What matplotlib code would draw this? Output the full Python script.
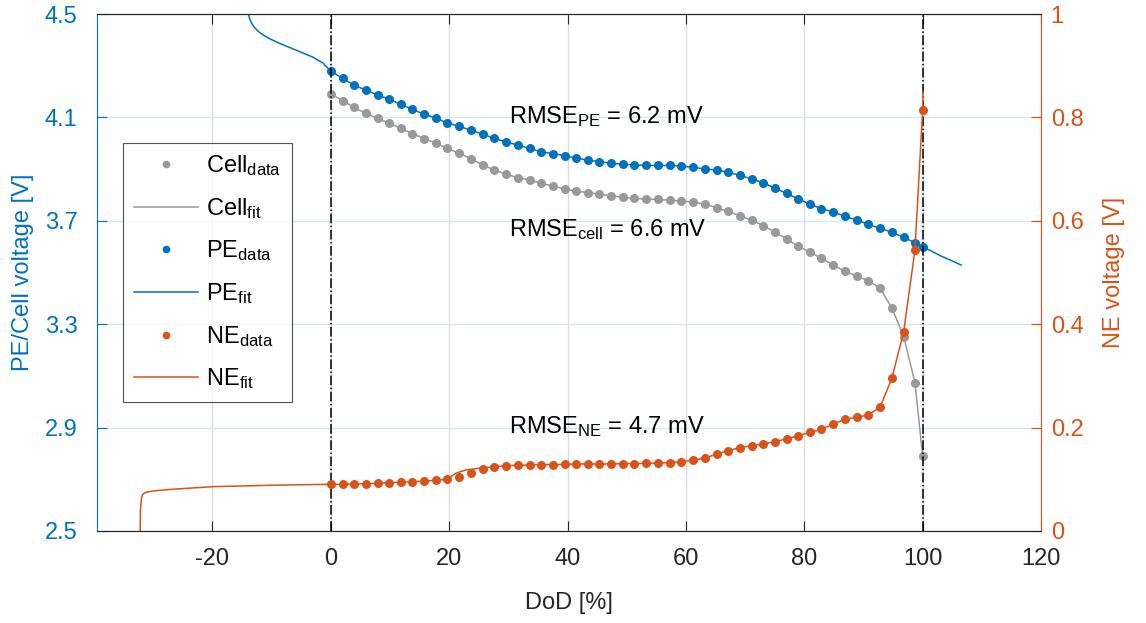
import matplotlib
matplotlib.use('Agg')
from matplotlib import pyplot as plt

plt.rcParams['font.family'] = ['Liberation Sans', 'DejaVu Sans']
plt.rcParams['mathtext.fontset'] = 'custom'
plt.rcParams['mathtext.rm'] = 'Liberation Sans'
plt.rcParams['mathtext.default'] = 'regular'
plt.rcParams['axes.unicode_minus'] = False

# depth of discharge of the measured points [%]
dod = [0, 2.0, 3.9, 5.9, 7.9, 9.9, 11.8, 13.8, 15.8, 17.8, 19.7, 21.7, 23.7,
       25.7, 27.6, 29.6, 31.6, 33.6, 35.5, 37.5, 39.5, 41.5, 43.4, 45.4, 47.4,
       49.4, 51.3, 53.3, 55.3, 57.3, 59.2, 61.2, 63.2, 65.2, 67.1, 69.1, 71.1,
       73.1, 75.0, 77.0, 79.0, 81.0, 82.9, 84.9, 86.9, 88.9, 90.8, 92.8, 94.8,
       96.8, 98.7, 100.0]

pe_data = [4.279, 4.251, 4.225, 4.206, 4.187, 4.170, 4.151, 4.131, 4.112, 4.097,
           4.078, 4.066, 4.050, 4.035, 4.019, 4.005, 3.993, 3.980,
           3.967, 3.960, 3.952, 3.942, 3.935, 3.929, 3.922, 3.919, 3.916, 3.915,
           3.914, 3.914, 3.911, 3.908, 3.900,
           3.897, 3.888, 3.876, 3.862, 3.847, 3.827, 3.806, 3.784, 3.764, 3.747,
           3.734, 3.717, 3.703, 3.686, 3.671, 3.656, 3.636, 3.615, 3.600]

cell_data = [4.191, 4.165, 4.139, 4.116, 4.097, 4.077, 4.058, 4.037, 4.018, 4.000,
             3.980, 3.962, 3.939, 3.916, 3.897, 3.880,
             3.867, 3.858, 3.845, 3.835, 3.823, 3.815, 3.809, 3.803, 3.796, 3.791,
             3.787, 3.784, 3.783, 3.779, 3.777, 3.772, 3.765,
             3.750, 3.737, 3.719, 3.702, 3.681, 3.657, 3.630, 3.601, 3.578, 3.555,
             3.529, 3.504, 3.486, 3.468, 3.439, 3.363, 3.252, 3.074, 2.790]

ne_data = [0.0903, 0.0903, 0.0909, 0.0915, 0.0922, 0.0935, 0.0941, 0.0954, 0.0967,
           0.0980, 0.1000, 0.1038, 0.1116, 0.1206, 0.1244, 0.1263, 0.1270, 0.1277,
           0.1283, 0.1283, 0.1290, 0.1296, 0.1296, 0.1296, 0.1296, 0.1303, 0.1303,
           0.1310, 0.1315, 0.1322, 0.1340, 0.1367, 0.1412, 0.1486,
           0.1553, 0.1612, 0.1650, 0.1683, 0.1728, 0.1780, 0.1844, 0.1909, 0.1967,
           0.2070, 0.2160, 0.2200, 0.2244, 0.2393, 0.2954, 0.3855, 0.5435, 0.8143]

# parts of the fitted curves outside / different from the measured points
pe_pre_x = [-13.9, -13.7, -13.4, -12.9, -12.2, -11.3, -10.2, -8.8, -7.0, -5.0, -3.0, -1.3]
pe_pre_y = [4.5, 4.482, 4.465, 4.448, 4.432, 4.417, 4.403, 4.388, 4.371, 4.352, 4.333, 4.310]
pe_post_x = [103.0, 106.5]
pe_post_y = [3.565, 3.529]

ne_pre_x = [-32.2, -32.15, -32.0, -31.8, -31.5, -30.8, -29.5, -27.0, -20.0, -10.0]
ne_pre_y = [0.0, 0.04, 0.062, 0.070, 0.0735, 0.0760, 0.0780, 0.0805, 0.0857, 0.0885]
ne_step_x = [21.1, 22.8, 25.0]
ne_step_y = [0.1116, 0.118, 0.1212]
ne_post_x = [100.05]
ne_post_y = [0.85]

rmse_pe = 6.2
rmse_cell = 6.6
rmse_ne = 4.7

blue = '#0072BD'
orange = '#D95319'
gray = '#999999'

pe_fit_x = pe_pre_x + dod + pe_post_x
pe_fit_y = pe_pre_y + pe_data + pe_post_y
ne_fit_x = ne_pre_x + dod[:11] + ne_step_x + dod[14:] + ne_post_x
ne_fit_y = ne_pre_y + ne_data[:11] + ne_step_y + ne_data[14:] + ne_post_y

fig = plt.figure(figsize=(11.46, 6.23), dpi=100)
ax = fig.add_axes([0.0846, 0.1477, 0.8238, 0.8298])
ax2 = ax.twinx()

ms = 6.5
h1, = ax.plot(dod, cell_data, 'o', color=gray, ms=ms, mec='none', label=r'Cell$_{data}$')
h2, = ax.plot(dod, cell_data, '-', color=gray, lw=1.1, label=r'Cell$_{fit}$')
h3, = ax.plot(dod, pe_data, 'o', color=blue, ms=ms, mec='none', label=r'PE$_{data}$')
h4, = ax.plot(pe_fit_x, pe_fit_y, '-', color=blue, lw=1.1, label=r'PE$_{fit}$')
ax.axvline(0, color='k', ls='-.', lw=1.1)
ax.axvline(100, color='k', ls='-.', lw=1.1)

h5, = ax2.plot(dod, ne_data, 'o', color=orange, ms=ms, mec='none', label=r'NE$_{data}$')
h6, = ax2.plot(ne_fit_x, ne_fit_y, '-', color=orange, lw=1.1, label=r'NE$_{fit}$')

ax.set_xlim(-39.5, 120)
ax.set_ylim(2.5, 4.5)
ax2.set_ylim(0, 1)
ax.set_xticks([-20, 0, 20, 40, 60, 80, 100, 120])
ax.set_yticks([2.5, 2.9, 3.3, 3.7, 4.1, 4.5])
ax.set_yticklabels(['2.5', '2.9', '3.3', '3.7', '4.1', '4.5'])
ax2.set_yticks([0, 0.2, 0.4, 0.6, 0.8, 1])
ax2.set_yticklabels(['0', '0.2', '0.4', '0.6', '0.8', '1'])

# grid: vertical gray, horizontal light blue
ax.xaxis.grid(True, color='#dcdcdc', lw=1)
ax.yaxis.grid(True, color='#d9e8f3', lw=1)
ax.set_axisbelow(True)

fs = 17
ax.tick_params(axis='x', direction='in', length=7, width=0.8, top=True,
               labelsize=fs, colors='#262626', pad=12)
ax.tick_params(axis='y', direction='in', length=7, width=0.8, labelsize=fs,
               colors=blue, pad=14)
ax2.tick_params(axis='y', direction='in', length=7, width=0.8, labelsize=fs,
                colors=orange, pad=7)

for a in (ax, ax2):
    a.spines['top'].set_color('#262626')
    a.spines['bottom'].set_color('#262626')
ax.spines['left'].set_color(blue)
ax.spines['right'].set_visible(False)
ax2.spines['left'].set_visible(False)
ax2.spines['right'].set_color(orange)

ax.set_xlabel('DoD [%]', fontsize=fs, color='#262626', labelpad=16)
ax.set_ylabel('PE/Cell voltage [V]', fontsize=fs, color=blue, labelpad=8)
ax2.set_ylabel('NE voltage [V]', fontsize=fs, color=orange, labelpad=14)

ax.text(30.1, 4.077, r'RMSE$_{PE}$ = %.1f mV' % rmse_pe, fontsize=fs, va='baseline')
ax.text(30.1, 3.639, r'RMSE$_{cell}$ = %.1f mV' % rmse_cell, fontsize=fs, va='baseline')
ax.text(30.1, 2.877, r'RMSE$_{NE}$ = %.1f mV' % rmse_ne, fontsize=fs, va='baseline')

leg = ax2.legend(handles=[h1, h2, h3, h4, h5, h6], loc='upper left',
                 bbox_to_anchor=(0.028, 0.751), borderaxespad=0, fontsize=fs,
                 frameon=True, fancybox=False, edgecolor='#262626',
                 handlelength=2.7, handletextpad=0.35, labelspacing=0.75,
                 borderpad=0.45, markerscale=0.85)
leg.get_frame().set_linewidth(0.8)

fig.savefig('out.png', dpi=100)
